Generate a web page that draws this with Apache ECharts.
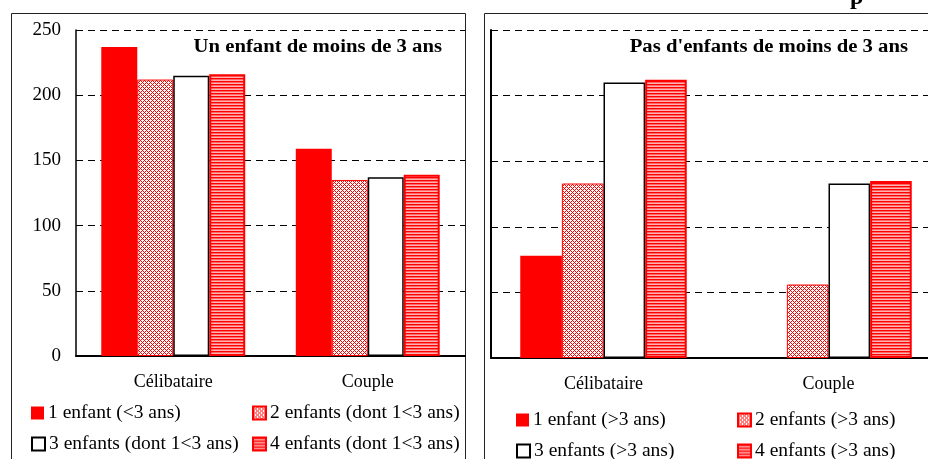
<!DOCTYPE html>
<html>
<head>
<meta charset="utf-8">
<script src="https://cdn.jsdelivr.net/npm/echarts@6/dist/echarts.min.js"></script>
<style>
  html, body { margin: 0; padding: 0; background: #fff; }
  #chart { width: 928px; height: 459px; }
</style>
</head>
<body>
<div id="chart"></div>
<script>
  // categories and values
  const categories = ['Célibataire', 'Couple'];
  const yTicks = [0, 50, 100, 150, 200, 250];

  const leftNames = ['1 enfant (<3 ans)', '2 enfants (dont 1<3 ans)', '3 enfants (dont 1<3 ans)', '4 enfants (dont 1<3 ans)'];
  const left1 = [237, 159];
  const left2 = [212, 135];
  const left3 = [215, 137];
  const left4 = [216, 139];

  const rightNames = ['1 enfant (>3 ans)', '2 enfants (>3 ans)', '3 enfants (>3 ans)', '4 enfants (>3 ans)'];
  const right1 = [78, null];
  const right2 = [133, 56];
  const right3 = [210, 133];
  const right4 = [212, 135];

  const FONT = 'Liberation Serif';

  // motifs des barres
  function hatchPattern() {
    let c = document.createElement('canvas');
    c.width = 4; c.height = 4;
    let ctx = c.getContext('2d');
    ctx.fillStyle = '#ffffff';
    ctx.fillRect(0, 0, 4, 4);
    ctx.fillStyle = '#ff0000';
    for (let x = 0; x < 4; x++) {
      for (let y = 0; y < 4; y++) {
        if ((x + y) % 4 === 0 || (x - y + 8) % 4 === 0) ctx.fillRect(x, y, 1, 1);
      }
    }
    return c;
  }
  function stripePattern() {
    let c = document.createElement('canvas');
    c.width = 4; c.height = 3;
    let ctx = c.getContext('2d');
    ctx.fillStyle = '#ff0000'; ctx.fillRect(0, 0, 4, 1);
    ctx.fillStyle = '#ff6666'; ctx.fillRect(0, 1, 4, 1);
    ctx.fillStyle = '#ffb3b3'; ctx.fillRect(0, 2, 4, 1);
    return c;
  }
  const hatch = { image: hatchPattern(), repeat: 'repeat' };
  const stripes = { image: stripePattern(), repeat: 'repeat' };

  const styles = [
    { color: '#ff0000' },
    { color: hatch, borderColor: '#ff0000', borderWidth: 1 },
    { color: '#ffffff', borderColor: '#000000', borderWidth: 1.5 },
    { color: stripes, borderColor: '#ff0000', borderWidth: 2 }
  ];

  function bars(names, datas, axisIndex) {
    return datas.map(function (d, i) {
      return {
        name: names[i],
        type: 'bar',
        xAxisIndex: axisIndex,
        yAxisIndex: axisIndex,
        barGap: '0%',
        barCategoryGap: '26%',
        itemStyle: styles[i],
        silent: true,
        data: d
      };
    });
  }

  // legendes : une par item, positionnees comme dans l'original
  function legend(name, left, centerY) {
    return {
      data: [name],
      left: left,
      top: centerY - 10,
      padding: 0,
      itemWidth: 13,
      itemHeight: 13,
      itemGap: 0,
      icon: 'rect',
      selectedMode: false,
      textStyle: { fontFamily: FONT, fontSize: 19.5, lineHeight: 20, color: '#000', padding: [0, 0, 0, -1] }
    };
  }

  function xAxis(gridIndex) {
    return {
      type: 'category',
      gridIndex: gridIndex,
      data: categories,
      axisTick: { show: false },
      axisLine: { lineStyle: { color: '#000', width: 2 } },
      axisLabel: { margin: 17, fontFamily: FONT, fontSize: 18, color: '#000' }
    };
  }
  function yAxis(gridIndex, showLabels) {
    return {
      type: 'value',
      gridIndex: gridIndex,
      min: yTicks[0],
      max: yTicks[yTicks.length - 1],
      interval: yTicks[1] - yTicks[0],
      axisLine: { show: true, lineStyle: { color: '#000', width: showLabels ? 1.5 : 2 } },
      axisTick: { show: false },
      axisLabel: { show: showLabels, margin: 15, fontFamily: FONT, fontSize: 19, color: '#000' },
      splitLine: { lineStyle: { color: '#000', width: 1, type: [7, 5] } }
    };
  }

  let chart = echarts.init(document.getElementById('chart'), null, { renderer: 'canvas' });

  chart.setOption({
    animation: false,
    backgroundColor: '#fff',
    grid: [
      { left: 76, top: 30, width: 389, height: 326, outerBoundsMode: 'none' },
      { left: 491, top: 30, width: 450, height: 328, outerBoundsMode: 'none' }
    ],
    xAxis: [xAxis(0), xAxis(1)],
    yAxis: [yAxis(0, true), yAxis(1, false)],
    legend: [
      legend(leftNames[0], 31, 413),
      legend(leftNames[1], 252, 413),
      legend(leftNames[2], 31, 444),
      legend(leftNames[3], 252, 444),
      legend(rightNames[0], 516, 420),
      legend(rightNames[1], 737, 420),
      legend(rightNames[2], 516, 451),
      legend(rightNames[3], 737, 451)
    ],
    graphic: [
      { type: 'rect', z: -1, shape: { x: 11.5, y: 13.5, width: 454, height: 470 },
        style: { fill: 'none', stroke: '#222', lineWidth: 1 } },
      { type: 'rect', z: -1, shape: { x: 484.5, y: 13.5, width: 470, height: 470 },
        style: { fill: 'none', stroke: '#222', lineWidth: 1 } },
      { type: 'text', x: 442, y: 47, scaleX: 1.15, originX: 0,
        style: { text: 'Un enfant de moins de 3 ans', fill: '#000', align: 'right', verticalAlign: 'middle',
                 font: 'bold 18px "Liberation Serif"' } },
      { type: 'text', x: 908, y: 47, scaleX: 1.15, originX: 0,
        style: { text: "Pas d'enfants de moins de 3 ans", fill: '#000', align: 'right', verticalAlign: 'middle',
                 font: 'bold 18px "Liberation Serif"' } },
      { type: 'text', x: 850, y: 10,
        style: { text: 'p', fill: '#000', align: 'left', verticalAlign: 'bottom',
                 font: 'bold 24px "Liberation Serif"' } }
    ],
    series: bars(leftNames, [left1, left2, left3, left4], 0)
      .concat(bars(rightNames, [right1, right2, right3, right4], 1))
  });
</script>
</body>
</html>
